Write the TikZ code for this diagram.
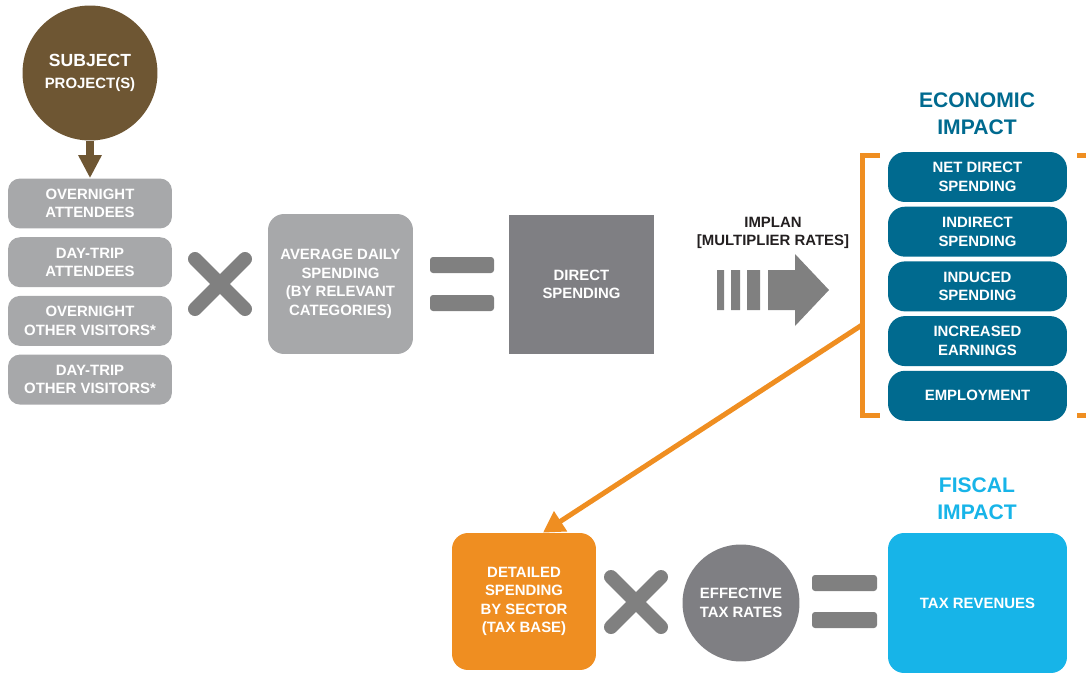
\documentclass[tikz,border=0pt]{standalone}
\usepackage{fontspec}
\setmainfont{Liberation Sans}
\usepackage{tikz}
\usetikzlibrary{arrows.meta,positioning,calc}
\definecolor{projbrown}{HTML}{6E5633}
\definecolor{boxgray}{HTML}{A7A8AA}
\definecolor{signgray}{HTML}{808080}
\definecolor{directgray}{HTML}{7F7F83}
\definecolor{econblue}{HTML}{006A8F}
\definecolor{fiscalblue}{HTML}{17B4E8}
\definecolor{taxorange}{HTML}{EF8E21}
\definecolor{labeltext}{HTML}{231F20}

\begin{document}
\begin{tikzpicture}[x=0.02cm,y=-0.02cm,
  every node/.style={font=\bfseries\fontsize{8.5}{10.5}\selectfont,align=center,text=white,inner sep=0pt},
  visitor/.style={fill=boxgray,rounded corners=0.24cm,minimum width=3.28cm,minimum height=1cm},
  impact/.style={fill=econblue,rounded corners=0.34cm,minimum width=3.58cm,minimum height=1cm},
  bigbox/.style={rounded corners=0.32cm,minimum width=2.9cm,minimum height=2.8cm},
  title/.style={font=\bfseries\fontsize{12}{15.2}\selectfont},
  timesbar/.style={draw=signgray,line width=0.28cm,line cap=round},
  eqbar/.style={fill=signgray,rounded corners=0.06cm},
  bracket/.style={draw=taxorange,line width=0.1cm},
  flow/.style={-{Triangle[length=0.46cm,width=0.44cm]},line width=0.16cm,draw=projbrown},
  taxflow/.style={-{Triangle[length=0.42cm,width=0.46cm]},line width=0.1cm,draw=taxorange}
]
\useasboundingbox (0,0) rectangle (1086,673);

\node[circle,fill=projbrown,minimum size=2.7cm] (subject) at (90,73) {{\fontsize{10}{12}\selectfont SUBJECT}\\[0.06cm]PROJECT(S)};
\node[visitor] (overnight) at (90,203.5) {OVERNIGHT\\ATTENDEES};
\node[visitor,below=0.16cm of overnight] (daytrip) {DAY-TRIP\\ATTENDEES};
\node[visitor,below=0.16cm of daytrip] (othernight) {OVERNIGHT\\OTHER VISITORS*};
\node[visitor,below=0.16cm of othernight] (otherday) {DAY-TRIP\\OTHER VISITORS*};
\draw[flow] (subject.south) -- (overnight.north);

\draw[timesbar] (195,259) -- (245,309) (195,309) -- (245,259);
\node[bigbox,fill=boxgray] (avg) at (340.5,284) {AVERAGE DAILY\\SPENDING\\(BY RELEVANT\\CATEGORIES)};
\fill[eqbar] (430,257) rectangle (494,273) (430,295) rectangle (494,311);
\node[bigbox,fill=directgray,sharp corners] (direct) at (581.5,284.5) {DIRECT\\SPENDING};

\node[text=labeltext] (implan) at (773,233) {IMPLAN\\{[MULTIPLIER RATES]}};
\fill[signgray] (717,270) rectangle (724,310) (731,270) rectangle (740,310) (747,270) rectangle (760,310);
\fill[signgray] (768,270) -- (795,270) -- (795,254) -- (829,290) -- (795,326) -- (795,310) -- (768,310) -- cycle;

\node[title,text=econblue] (econtitle) at (977,114) {ECONOMIC\\IMPACT};
\node[impact] (netdirect) at (977.5,177) {NET DIRECT\\SPENDING};
\node[impact,below=0.08cm of netdirect] (indirect) {INDIRECT\\SPENDING};
\node[impact,below=0.08cm of indirect] (induced) {INDUCED\\SPENDING};
\node[impact,below=0.08cm of induced] (earnings) {INCREASED\\EARNINGS};
\node[impact,below=0.08cm of earnings] (employment) {EMPLOYMENT};
\draw[bracket] (880,155) -- (862,155) -- (862,415) -- (880,415);
\draw[bracket] (1077,155) -- (1086,155) (1077,415) -- (1086,415);
\coordinate (brk) at (862,325);

\node[bigbox,fill=taxorange,minimum width=2.88cm,minimum height=2.74cm] (detail) at (524,601.5) {DETAILED\\SPENDING\\BY SECTOR\\(TAX BASE)};
\draw[taxflow] (brk) -- ($(detail.north)+(19,0)$);
\draw[timesbar] (611,577) -- (661,627) (611,627) -- (661,577);
\node[circle,fill=directgray,minimum size=2.34cm] (taxrate) at (741,603) {EFFECTIVE\\TAX RATES};
\fill[eqbar] (812,575) rectangle (877,591) (812,612) rectangle (877,628);
\node[title,text=fiscalblue] (fiscaltitle) at (977,499) {FISCAL\\IMPACT};
\node[bigbox,fill=fiscalblue,minimum width=3.58cm] (revenue) at (977.5,603) {TAX REVENUES};
\end{tikzpicture}
\end{document}
